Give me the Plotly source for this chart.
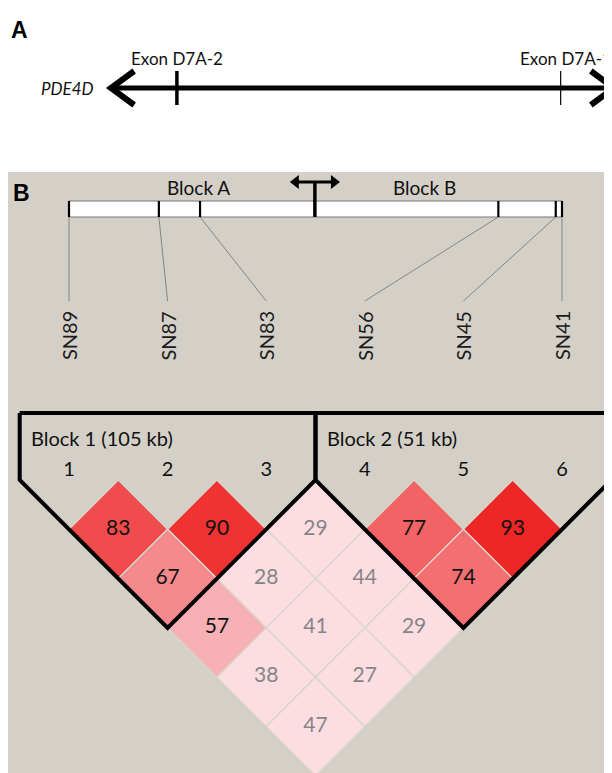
import plotly.graph_objects as go

# ---------------- data ----------------
gene_name = "PDE4D"
exon_labels = ["Exon D7A-2", "Exon D7A-1"]
exon_pos = [13.1, 89.4]            # position along the PDE4D schematic (0-100)
exon_widths = [3.5, 1.2]
exon_label_shift = [0, 5]

snp_names = ["SN89", "SN87", "SN83", "SN56", "SN45", "SN41"]
snp_kb = [0, 72, 105, 344, 390, 395]
promoter_kb = 197
region_labels = ["Block A", "Block B"]
marker_ids = [1, 2, 3, 4, 5, 6]

ld_pairs = [(1, 2), (2, 3), (3, 4), (4, 5), (5, 6),
            (1, 3), (2, 4), (3, 5), (4, 6),
            (1, 4), (2, 5), (3, 6),
            (1, 5), (2, 6),
            (1, 6)]
ld_values = [83, 90, 29, 77, 93,
             67, 28, 44, 74,
             57, 41, 29,
             38, 27,
             47]
blocks = [(1, 3), (4, 6)]

# ---------------- layout constants (window pixels) ----------------
WIN_W, WIN_H = 612, 773
OFF = 8                      # default page margin of the html body
W, H = WIN_W - OFF, WIN_H - OFF
PXU = 98.6      # pixels per marker unit
MX0 = 69        # pixel x of marker 1
LDY0 = 480      # pixel y of top of LD triangle
BG = "#d4d0c8"
FONT = "Lato"


def yu(py):
    return (LDY0 - py) / PXU


def xu(px):
    return 1 + (px - MX0) / PXU


def px2paper(px, py):
    return (px - OFF) / W, 1 - (py - OFF) / H


def kb2x(kb):
    n = len(snp_kb) - 1
    return 1 + (kb - snp_kb[0]) / (snp_kb[-1] - snp_kb[0]) * n


def lerp(c1, c2, t):
    return "rgb(%d,%d,%d)" % tuple(round(a + (b - a) * t) for a, b in zip(c1, c2))


def cell_color(v):
    if v < 50:
        return "#fcdde1"
    t = min(max((v - 55) / (93 - 55), 0), 1)
    return lerp((248, 184, 188), (238, 38, 38), t)


fig = go.Figure()

# gene axis for panel A: 0 -> px 111, 100 -> px ~614
G0, GS = 111, 5.03
gx_range = [(OFF - G0) / GS, (WIN_W - G0) / GS]

# ---------------- panel A ----------------
yA = yu(88)
fig.add_trace(go.Scatter(x=[0, 100], y=[yA, yA], mode="lines", xaxis="x2", yaxis="y",
                         line=dict(color="black", width=5), hoverinfo="skip"))
dxh, dyh = 4.6, 17 / PXU
for tip, sgn in [(0, 1), (100, -1)]:
    fig.add_trace(go.Scatter(x=[tip + sgn * dxh, tip, tip + sgn * dxh],
                             y=[yA + dyh, yA, yA - dyh], mode="lines", xaxis="x2", yaxis="y",
                             line=dict(color="black", width=6), hoverinfo="skip"))
for p, lab, w, sh in zip(exon_pos, exon_labels, exon_widths, exon_label_shift):
    fig.add_trace(go.Scatter(x=[p, p], y=[yA + 17 / PXU, yA - 17 / PXU], mode="lines",
                             xaxis="x2", yaxis="y", line=dict(color="black", width=w),
                             hoverinfo="skip"))
    fig.add_annotation(x=p, y=yu(58), xref="x2", yref="y", text=lab, showarrow=False,
                       xshift=sh, font=dict(family=FONT, size=17, color="#111"))
fig.add_annotation(x=-3, y=yA, xref="x2", yref="y", text="<i>%s</i>" % gene_name,
                   xanchor="right", showarrow=False, font=dict(family=FONT, size=17, color="#111"))

# ---------------- panel B: physical map ----------------
bt, bb = yu(201), yu(217)
x_first, x_last = kb2x(snp_kb[0]), kb2x(snp_kb[-1])
fig.add_trace(go.Scatter(x=[x_first, x_last, x_last, x_first, x_first], y=[bt, bt, bb, bb, bt],
                         mode="lines", fill="toself", fillcolor="white",
                         line=dict(color="#777", width=1), hoverinfo="skip"))
lab_top = yu(301)
for name, kb, m in zip(snp_names, snp_kb, marker_ids):
    xk = kb2x(kb)
    fig.add_trace(go.Scatter(x=[xk, m], y=[bb, lab_top], mode="lines",
                             line=dict(color="#858585", width=1), hoverinfo="skip"))
    fig.add_trace(go.Scatter(x=[xk, xk], y=[bt, bb], mode="lines",
                             line=dict(color="black", width=2.2), hoverinfo="skip"))
    fig.add_annotation(x=m, y=yu(336), xref="x", yref="y", text=name, textangle=-90,
                       showarrow=False, font=dict(family=FONT, size=20, color="#1a1a1a"))

# promoter marker (T with double arrow)
xp = kb2x(promoter_kb)
ya = yu(182)
fig.add_trace(go.Scatter(x=[xp, xp], y=[ya, bb], mode="lines",
                         line=dict(color="black", width=3.5), hoverinfo="skip"))
ha = 24 / PXU
fig.add_trace(go.Scatter(x=[xp - ha + 0.06, xp + ha - 0.06], y=[ya, ya], mode="lines",
                         line=dict(color="black", width=3), hoverinfo="skip"))
fig.add_trace(go.Scatter(x=[xp - ha + 0.05, xp + ha - 0.05], y=[ya, ya], mode="markers",
                         marker=dict(symbol=["triangle-left", "triangle-right"], size=12,
                                     color="black"), hoverinfo="skip"))
for lab, px in zip(region_labels, [198, 424]):
    fig.add_annotation(x=xu(px), y=yu(187), text=lab, showarrow=False,
                       font=dict(family=FONT, size=19, color="#111"))

# ---------------- panel B: LD plot ----------------
for (i, j), v in zip(ld_pairs, ld_values):
    cx, cy = (i + j) / 2, -(j - i) / 2
    fig.add_trace(go.Scatter(x=[cx, cx + 0.5, cx, cx - 0.5, cx],
                             y=[cy + 0.5, cy, cy - 0.5, cy, cy + 0.5],
                             mode="lines", fill="toself", fillcolor=cell_color(v),
                             line=dict(color="#d6d6cc", width=1.3), hoverinfo="skip"))
fig.add_trace(go.Scatter(x=[(i + j) / 2 for i, j in ld_pairs],
                         y=[-(j - i) / 2 for i, j in ld_pairs],
                         mode="text", text=[str(v) for v in ld_values],
                         textfont=dict(family=FONT, size=21,
                                       color=["#111" if v >= 50 else "#858585" for v in ld_values]),
                         hoverinfo="skip"))

top = yu(413)
for k, (a, b) in enumerate(blocks, start=1):
    xs = [a - 0.5, a - 0.5, (a + b) / 2, b + 0.5, b + 0.5, a - 0.5]
    ys = [top, 0, -(b - a + 1) / 2, 0, top, top]
    fig.add_trace(go.Scatter(x=xs, y=ys, mode="lines", line=dict(color="black", width=4),
                             hoverinfo="skip"))
    size_kb = snp_kb[b - 1] - snp_kb[a - 1]
    fig.add_annotation(x=a - 0.5 + 9 / PXU, y=yu(438), text="Block %d (%d kb)" % (k, size_kb),
                       xanchor="left", showarrow=False,
                       font=dict(family=FONT, size=20, color="#111"))

fig.add_trace(go.Scatter(x=marker_ids, y=[yu(471)] * len(marker_ids), mode="text",
                         text=[str(m) for m in marker_ids],
                         textfont=dict(family=FONT, size=20, color="#111"), hoverinfo="skip"))

# panel letters
for letter, (px, py), sz in [("A", (19, 30), 23), ("B", (21, 193), 23)]:
    ax, ay = px2paper(px, py)
    fig.add_annotation(x=ax, y=ay, xref="paper", yref="paper", text="<b>%s</b>" % letter,
                       xanchor="center", yanchor="middle", showarrow=False,
                       font=dict(family="Liberation Sans", size=sz, color="black"))

gx0, gy1 = px2paper(8, 172)
fig.update_layout(
    width=W, height=H, margin=dict(l=0, r=0, t=0, b=0),
    paper_bgcolor="white", plot_bgcolor="white", showlegend=False,
    xaxis=dict(range=[xu(OFF), xu(WIN_W)], visible=False, fixedrange=True),
    xaxis2=dict(range=gx_range, visible=False, overlaying="x", fixedrange=True),
    yaxis=dict(range=[yu(WIN_H), yu(OFF)], visible=False, fixedrange=True),
    shapes=[dict(type="rect", xref="paper", yref="paper", x0=gx0, x1=1, y0=0,
                 y1=gy1, fillcolor=BG, line=dict(width=0), layer="below")],
)

fig.write_html("out.html")
